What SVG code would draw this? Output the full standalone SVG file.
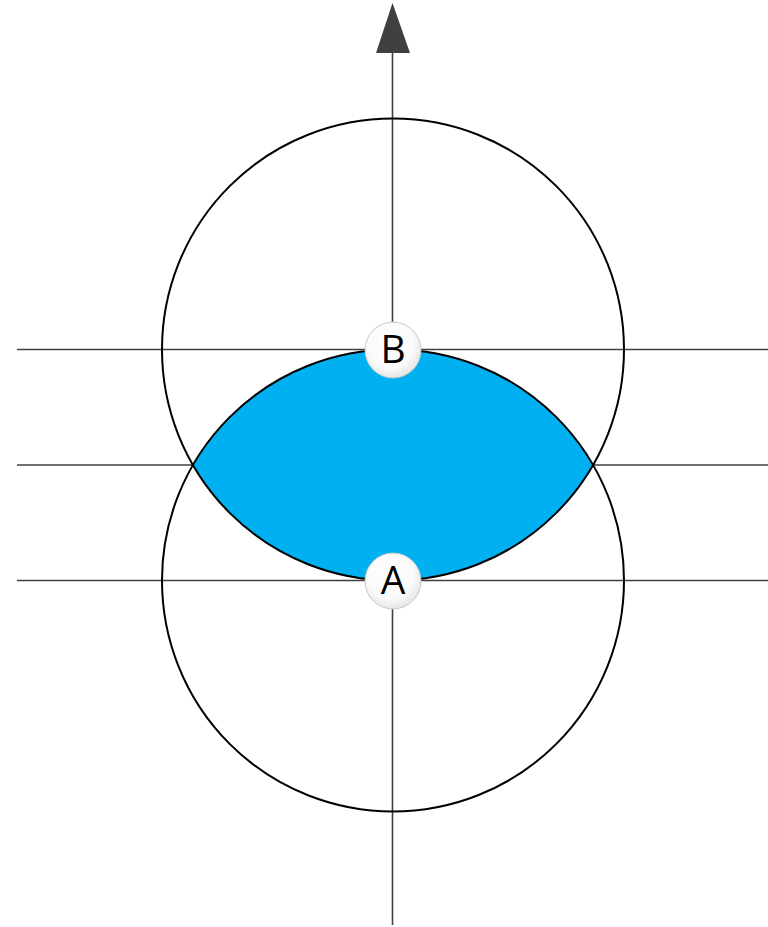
<svg xmlns="http://www.w3.org/2000/svg" width="768" height="927" viewBox="0 0 768 927">
<style>
.axis{stroke:#404040;stroke-width:1.6;fill:none}
.circ{stroke:#000;stroke-width:2;fill:none}
.lbl{fill:url(#lg);stroke:#c8c8c8;stroke-width:1}
.t{font-family:"Open Sans","Liberation Sans",sans-serif;font-size:39px;fill:#000;text-anchor:middle}
</style>
<defs>
<radialGradient id="lg" cx="0.45" cy="0.4" r="0.6">
<stop offset="0" stop-color="#ffffff"/>
<stop offset="0.7" stop-color="#fafafa"/>
<stop offset="1" stop-color="#e6e6e6"/>
</radialGradient>
</defs>
<g id="connectors">
<line class="axis" x1="17" y1="349.5" x2="768" y2="349.5"/>
<line class="axis" x1="17" y1="465" x2="768" y2="465"/>
<line class="axis" x1="17" y1="580.5" x2="768" y2="580.5"/>
<line class="axis" x1="392.5" y1="925" x2="392.5" y2="53"/>
<path d="M392.5,3 L410,53 L376,53 Z" fill="#404040"/>
</g>
<g id="lens"><path d="M193,465 A231,231 0 0 1 593,465 A231,231 0 0 1 193,465 Z" fill="#00b0f0"/></g>
<g id="circleB"><circle class="circ" cx="393" cy="349.5" r="231"/></g>
<g id="circleA"><circle class="circ" cx="393" cy="580.5" r="231"/></g>
<g id="B"><circle class="lbl" cx="393" cy="350" r="28"/><text class="t" x="393" y="363">B</text></g>
<g id="A"><circle class="lbl" cx="393" cy="581" r="28"/><text class="t" x="393" y="594">A</text></g>
</svg>
